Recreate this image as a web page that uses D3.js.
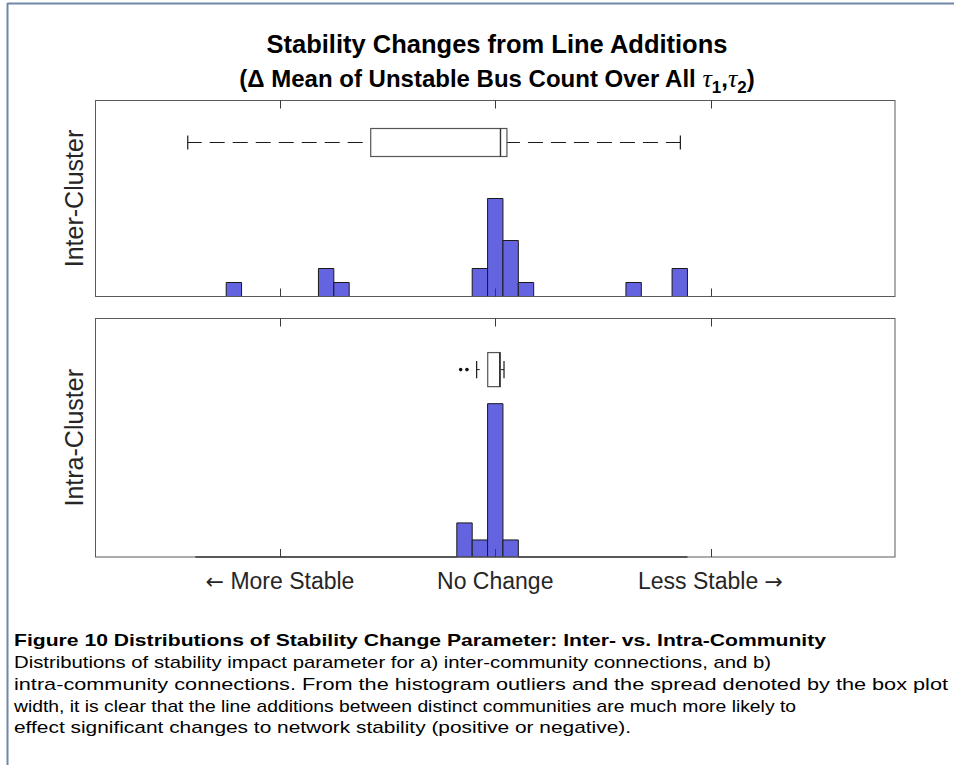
<!DOCTYPE html>
<html>
<head>
<meta charset="utf-8">
<script src="https://cdn.jsdelivr.net/npm/d3@7"></script>
<style>
  body { margin: 0; background: #fff; }
  text { font-family: "Liberation Sans", Arial, Helvetica, sans-serif; }
</style>
</head>
<body>
<div id="chart"></div>
<script>
// histogram bins (bin centres, 1 unit = 1 bin) and counts
const binCenters = [-19, -18, -17, -16, -15, -14, -13, -12, -11, -10, -9, -8, -7, -6, -5, -4,
    -3, -2, -1, 0, 1, 2, 3, 4, 5, 6, 7, 8, 9, 10, 11, 12]
const interCounts = [0, 0, 1, 0, 0, 0, 0, 0, 2, 1, 0, 0, 0, 0, 0, 0,
    0, 0, 2, 7, 4, 1, 0, 0, 0, 0, 0, 0, 1, 0, 0, 2]
const intraCounts = [0, 0, 0, 0, 0, 0, 0, 0, 0, 0, 0, 0, 0, 0, 0, 0,
    0, 2, 1, 9, 1, 0, 0, 0, 0, 0, 0, 0, 0, 0, 0, 0]

// box plot summaries: [lower whisker, q1, median, q3, upper whisker]
const interBox = [-20, -8.1, 0.34, 0.76, 12.04]
const intraBox = [-1.21, -0.49, 0.29, 0.33, 0.57]
const interOutliers = []
const intraOutliers = [-2.25, -1.84]

const tickValues = [-14, 0, 14]
const tickLabels = [["\u2190", " More Stable"], ["", "No Change"], ["Less Stable ", "\u2192"]]
const panelLabels = ["Inter-Cluster", "Intra-Cluster"]

const captionTitle = "Figure 10 Distributions of Stability Change Parameter: Inter- vs. Intra-Community"
const captionLines = [
    "Distributions of stability impact parameter for a) inter-community connections, and b)",
    "intra-community connections. From the histogram outliers and the spread denoted by the box plot",
    "width, it is clear that the line additions between distinct communities are much more likely to",
    "effect significant changes to network stability (positive or negative)."
]

const W = 954, H = 765
const svg = d3.select("#chart")
    .append("svg")
    .attr("width", W)
    .attr("height", H)

// page frame (top + left rule)
svg.append("line").attr("x1", 7.5).attr("x2", W).attr("y1", 3.5).attr("y2", 3.5)
    .attr("stroke", "#7088a6").attr("stroke-width", 2)
svg.append("line").attr("x1", 7.5).attr("x2", 7.5).attr("y1", 3).attr("y2", H)
    .attr("stroke", "#7088a6").attr("stroke-width", 2)

const x = d3.scaleLinear().domain([-26, 26]).range([95.5, 895])
const binW = 1

const panels = [
    { counts: interCounts, box: interBox, out: interOutliers, label: panelLabels[0], top: 100.5, bottom: 296.5 },
    { counts: intraCounts, box: intraBox, out: intraOutliers, label: panelLabels[1], top: 318.5, bottom: 557 }
]

panels.forEach(function (p) {
    const y = d3.scaleLinear().domain([0, 14]).range([p.bottom, p.top])
    const g = svg.append("g")

    // bars, drawn as closed paths so empty bins still show their edge
    g.selectAll("path.bar")
        .data(binCenters.map(function (c, i) { return { c: c, n: p.counts[i] } }))
        .enter().append("path")
        .attr("class", "bar")
        .attr("d", function (d) {
            const x0 = x(d.c - binW / 2), x1 = x(d.c + binW / 2)
            return "M" + x0 + "," + y(0) + "V" + y(d.n) + "H" + x1 + "V" + y(0) + "Z"
        })
        .attr("fill", "#6464e0")
        .attr("stroke", "#1a1a1a")
        .attr("stroke-width", 1)

    // axes box
    g.append("rect")
        .attr("x", x.range()[0]).attr("y", p.top)
        .attr("width", x.range()[1] - x.range()[0]).attr("height", p.bottom - p.top)
        .attr("fill", "none").attr("stroke", "#5a5a5a").attr("stroke-width", 1)

    // inward ticks top and bottom
    g.selectAll("line.tb")
        .data(tickValues)
        .enter().append("line")
        .attr("x1", function (d) { return Math.round(x(d)) + 0.5 })
        .attr("x2", function (d) { return Math.round(x(d)) + 0.5 })
        .attr("y1", p.top).attr("y2", p.top + 8)
        .attr("stroke", "#3a3a3a")
    g.selectAll("line.bt")
        .data(tickValues)
        .enter().append("line")
        .attr("x1", function (d) { return Math.round(x(d)) + 0.5 })
        .attr("x2", function (d) { return Math.round(x(d)) + 0.5 })
        .attr("y1", p.bottom).attr("y2", p.bottom - 8)
        .attr("stroke", "#3a3a3a")

    // box plot at y = 11
    const b = p.box
    const yc = y(11), hh = y(10) - y(11), cap = hh / 2
    g.append("line")
        .attr("x1", x(b[1])).attr("x2", x(b[0])).attr("y1", yc).attr("y2", yc)
        .attr("stroke", "#1a1a1a").attr("stroke-dasharray", "15,8").attr("stroke-dashoffset", 15)
    g.append("line")
        .attr("x1", x(b[3])).attr("x2", x(b[4])).attr("y1", yc).attr("y2", yc)
        .attr("stroke", "#1a1a1a").attr("stroke-dasharray", "15,8").attr("stroke-dashoffset", 2)
    g.selectAll("line.cap")
        .data([b[0], b[4]])
        .enter().append("line")
        .attr("x1", function (d) { return x(d) }).attr("x2", function (d) { return x(d) })
        .attr("y1", yc - cap).attr("y2", yc + cap)
        .attr("stroke", "#1a1a1a").attr("stroke-width", 1.2)
    g.append("rect")
        .attr("x", x(b[1])).attr("y", yc - hh)
        .attr("width", x(b[3]) - x(b[1])).attr("height", 2 * hh)
        .attr("fill", "#fff").attr("stroke", "#555").attr("stroke-width", 1.2)
    g.append("line")
        .attr("x1", x(b[2])).attr("x2", x(b[2]))
        .attr("y1", yc - hh).attr("y2", yc + hh)
        .attr("stroke", "#333").attr("stroke-width", 1.4)
    g.selectAll("circle.out")
        .data(p.out)
        .enter().append("circle")
        .attr("cx", function (d) { return x(d) }).attr("cy", yc)
        .attr("r", 1.8).attr("fill", "#111")

    // panel label
    svg.append("text")
        .attr("transform", "translate(83," + ((p.top + p.bottom) / 2) + ") rotate(-90)")
        .attr("text-anchor", "middle")
        .attr("font-size", "25px")
        .attr("fill", "#262626")
        .text(p.label)
})

// x labels (arrows set in DejaVu so they come out long like TeX arrows)
const xl = svg.selectAll("text.xl")
    .data(tickValues)
    .enter().append("text")
    .attr("x", function (d) { return x(d) })
    .attr("y", 589)
    .attr("text-anchor", "middle")
    .attr("font-size", "23px")
    .attr("fill", "#262626")
xl.each(function (d, i) {
    const t = d3.select(this)
    const parts = tickLabels[i]
    if (i === 0) {
        t.append("tspan").attr("font-family", "DejaVu Sans").attr("font-size", "22px").text(parts[0])
        t.append("tspan").text(parts[1])
    } else if (i === 2) {
        t.append("tspan").text(parts[0])
        t.append("tspan").attr("font-family", "DejaVu Sans").attr("font-size", "22px").text(parts[1])
    } else {
        t.text(parts[1])
    }
})

// title
const title = svg.append("g").attr("font-weight", "bold").attr("fill", "#000")
title.append("text")
    .attr("x", 497).attr("y", 53)
    .attr("text-anchor", "middle").attr("font-size", "25.5px")
    .attr("font-weight", "bold")
    .text("Stability Changes from Line Additions")
const t2 = title.append("text")
    .attr("x", 497).attr("y", 87)
    .attr("text-anchor", "middle").attr("font-size", "24px")
    .attr("font-weight", "bold")
t2.append("tspan").text("(\u0394 Mean of Unstable Bus Count Over All ")
t2.append("tspan").attr("font-family", "Liberation Serif, serif").attr("font-style", "italic").attr("font-weight", "normal").attr("font-size", "26px").text("\u03c4")
t2.append("tspan").attr("dy", 6).attr("font-size", "17px").text("1")
t2.append("tspan").attr("dy", -6).text(",")
t2.append("tspan").attr("font-family", "Liberation Serif, serif").attr("font-style", "italic").attr("font-weight", "normal").attr("font-size", "26px").text("\u03c4")
t2.append("tspan").attr("dy", 6).attr("font-size", "17px").text("2")
t2.append("tspan").attr("dy", -6).text(")")

// caption (condensed sans, stretched to the measured line ends)
const capFont = "'DejaVu Sans Condensed', 'DejaVu Sans', sans-serif"
svg.append("text")
    .attr("x", 14).attr("y", 646)
    .attr("font-family", capFont)
    .attr("font-weight", "bold")
    .attr("font-size", "17px")
    .attr("textLength", 812).attr("lengthAdjust", "spacingAndGlyphs")
    .attr("fill", "#000")
    .text(captionTitle)
const capLens = [757, 934, 782, 617]
svg.selectAll("text.cap")
    .data(captionLines)
    .enter().append("text")
    .attr("x", 14)
    .attr("y", function (d, i) { return 668 + i * 21.8 })
    .attr("font-family", capFont)
    .attr("font-size", "17px")
    .attr("textLength", function (d, i) { return capLens[i] })
    .attr("lengthAdjust", "spacingAndGlyphs")
    .attr("fill", "#000")
    .text(function (d) { return d })
</script>
</body>
</html>
